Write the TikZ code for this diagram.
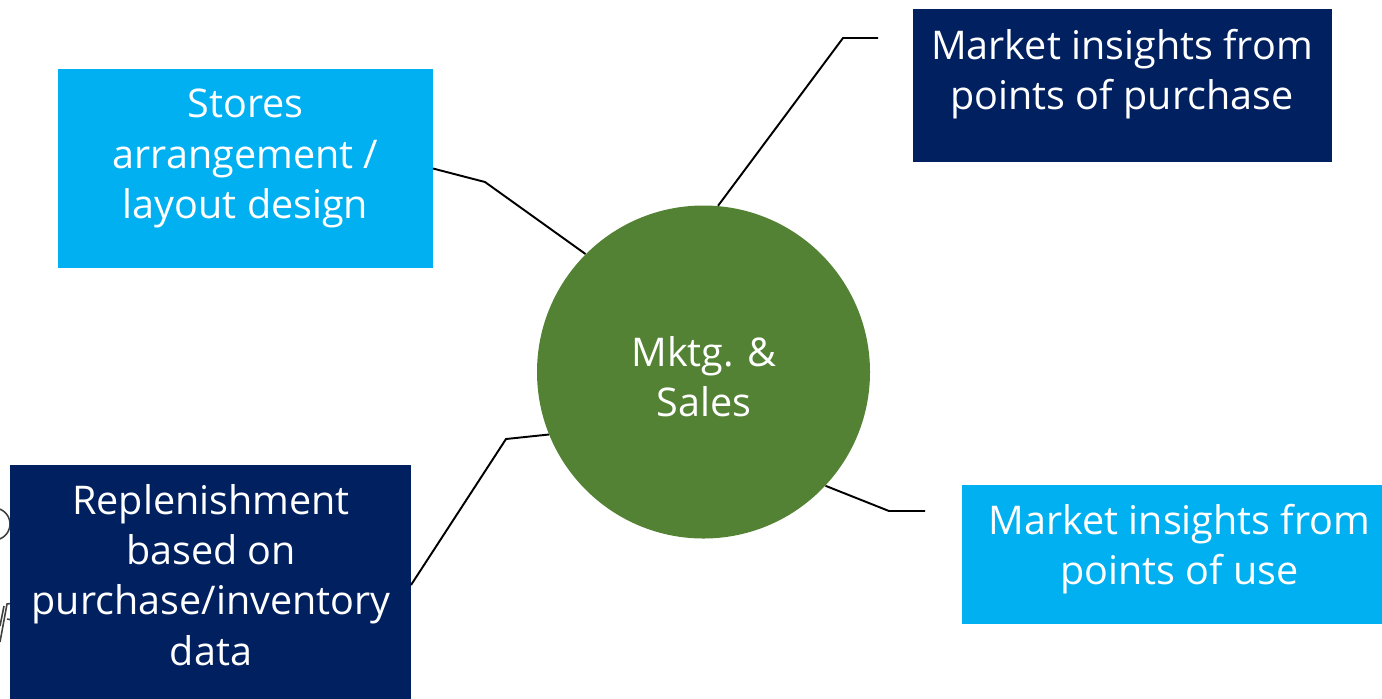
\documentclass[tikz,border=0pt]{standalone}
\usepackage{fontspec}
\setmainfont{Open Sans}
\definecolor{lightblue}{HTML}{00B0F0}
\definecolor{navy}{HTML}{002060}
\definecolor{mkgreen}{HTML}{548235}
\begin{document}
\begin{tikzpicture}[x=0.02cm,y=-0.02cm,
  box/.style={rectangle, inner sep=0pt, outer sep=0pt},
  lbox/.style={box, fill=lightblue},
  dbox/.style={box, fill=navy},
  txt/.style={text=white, align=center, inner sep=0pt, font=\fontsize{22.5}{28.6}\selectfont},
  conn/.style={draw=black, line width=1.1pt},
  stray/.style={draw=black!75, line width=0.9pt}]
\useasboundingbox (0,0) rectangle (1382,698);
% stray fragments at left edge
\draw[stray] (-6,524) circle (16);
\draw[stray] (0,642) -- (7,604) arc (250:470:8);
\draw[stray] (0,626) -- (4,606);
% boxes
\node[lbox, minimum width=375*0.02cm, minimum height=199*0.02cm] (tl) at (245.5,168.5) {};
\node[dbox, minimum width=419*0.02cm, minimum height=153*0.02cm] (tr) at (1122.5,85.5) {};
\node[dbox, minimum width=401*0.02cm, minimum height=240*0.02cm] (bl) at (210.5,585) {};
\node[lbox, minimum width=420*0.02cm, minimum height=139*0.02cm] (br) at (1172,554.5) {};
\node[circle, fill=mkgreen, minimum size=333*0.02cm, inner sep=0pt] (c) at (703.5,372) {};
% texts
\node[txt, anchor=north] (tlt) at (245.5,89) {Stores\\arrangement /\\layout design};
\node[txt, anchor=north] (trt) at (1122,29) {Market insights from\\points of purchase};
\node[txt, anchor=north] (blt) at (211,484) {Replenishment\\based on\\purchase/inventory\\data};
\node[txt, anchor=north] (brt) at (1179.5,504) {Market insights from\\points of use};
\node[txt] (ct) at (704,377) {Mktg. \&\\Sales};
% connectors
\coordinate (trf) at (878,38);
\coordinate (brf) at (925,511);
\draw[conn] (tl.east) -- (485,182) -- (c.135);
\draw[conn] (c.85) -- (843,38) -- (trf);
\draw[conn] (bl.east) -- (506,439) -- (c.202);
\draw[conn] (c.317) -- (889,511) -- (brf);
\end{tikzpicture}
\end{document}
